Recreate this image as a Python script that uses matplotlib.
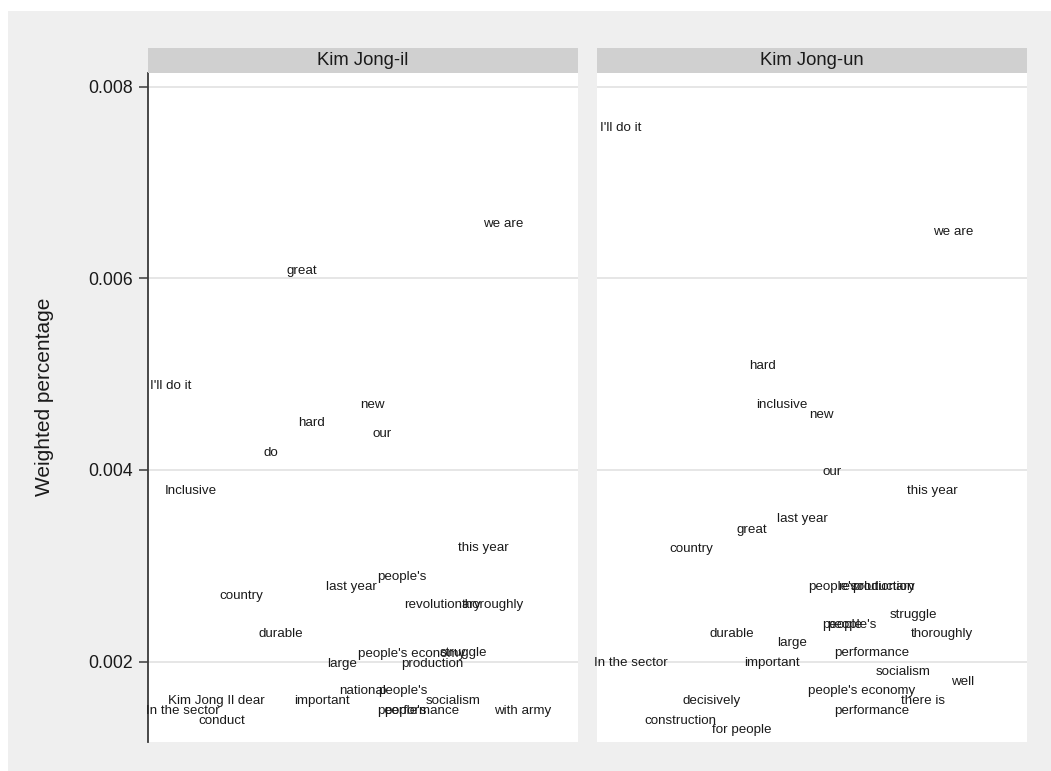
import matplotlib
matplotlib.use("Agg")
import matplotlib.pyplot as plt
from matplotlib.patches import Rectangle

plt.rcParams["font.family"] = ["Liberation Sans", "DejaVu Sans"]

# Word positions (shared word index) and weighted shares, by speaker
il_words = ["we are", "great", "I'll do it", "new", "hard", "our", "do", "Inclusive",
            "this year", "people's", "last year", "country", "revolutionary", "thoroughly",
            "durable", "people's economy", "struggle", "large", "production", "national",
            "people's", "Kim Jong Il dear", "important", "socialism", "In the sector",
            "people's", "performance", "with army", "conduct"]
il_pos = [82.6, 35.8, 5.3, 52.1, 38.1, 54.4, 28.6, 10.0,
          77.9, 59.1, 47.4, 21.6, 68.4, 80.2,
          31.0, 61.4, 73.3, 45.1, 66.2, 49.8,
          59.3, 15.8, 40.5, 70.9, 8.1,
          59.1, 63.7, 87.2, 17.2]
il_share = [0.00657, 0.00608, 0.00488, 0.00468, 0.00449, 0.00438, 0.00418, 0.00378,
            0.00319, 0.00288, 0.00278, 0.00269, 0.00259, 0.00259,
            0.00229, 0.00208, 0.00209, 0.00198, 0.00198, 0.00169,
            0.00169, 0.00159, 0.00159, 0.00159, 0.00149,
            0.00149, 0.00149, 0.00149, 0.00138]

un_words = ["I'll do it", "we are", "hard", "inclusive", "new", "our", "this year",
            "last year", "great", "country", "people's", "production", "revolutionary",
            "struggle", "people", "people's", "durable", "thoroughly", "large",
            "performance", "In the sector", "important", "socialism", "well",
            "people's economy", "decisively", "there is", "performance",
            "construction", "for people"]
un_pos = [5.6, 82.8, 38.4, 43.0, 52.3, 54.7, 78.1,
          47.7, 36.0, 21.9, 54.9, 66.5, 65.1,
          73.5, 57.0, 59.3, 31.3, 80.3, 45.3,
          64.0, 7.9, 40.7, 71.2, 85.1,
          61.6, 26.6, 75.7, 64.0,
          19.5, 33.7]
un_share = [0.00757, 0.00648, 0.00508, 0.00468, 0.00457, 0.00398, 0.00378,
            0.00349, 0.00337, 0.00318, 0.00278, 0.00278, 0.00278,
            0.00249, 0.00238, 0.00238, 0.00229, 0.00229, 0.00219,
            0.00209, 0.00199, 0.00199, 0.00189, 0.00179,
            0.00169, 0.00159, 0.00159, 0.00149,
            0.00138, 0.00129]

panel_titles = ["Kim Jong-il", "Kim Jong-un"]
y_ticks = [0.002, 0.004, 0.006, 0.008]
y_ticklabels = ["0.002", "0.004", "0.006", "0.008"]

W, H = 1051, 771
fig = plt.figure(figsize=(W / 100, H / 100), dpi=100)
fig.patch.set_facecolor("white")

# graph region background, drawn beneath the panels
bg = Rectangle((8 / W, 0), 1 - 8 / W, 1 - 11 / H,
               transform=fig.transFigure, facecolor="#efefef",
               edgecolor="none", zorder=-10)
fig.add_artist(bg)

panel_w = 430 / W
bottom = 1 - 742 / H
top = 1 - 73 / H
lefts = [148 / W, 597 / W]
strip_h = 25 / H

panels = [(il_words, il_pos, il_share), (un_words, un_pos, un_share)]

for i, (words, pos, share) in enumerate(panels):
    ax = fig.add_axes([lefts[i], bottom, panel_w, top - bottom])
    ax.set_facecolor("white")
    ax.set_xlim(0, 100)
    ax.set_ylim(0.001162, 0.008142)
    for t in y_ticks:
        ax.axhline(t, color="#e6e6e6", lw=1.4, zorder=1)
    for w, x, y in zip(words, pos, share):
        ax.text(x, y, w, ha="center", va="center", fontsize=9.6,
                color="#1a1a1a", zorder=3)
    for s in ["top", "right", "bottom"]:
        ax.spines[s].set_visible(False)
    ax.set_xticks([])
    if i == 0:
        ax.spines["left"].set_color("#3a3a3a")
        ax.spines["left"].set_linewidth(1.3)
        ax.set_yticks(y_ticks)
        ax.set_yticklabels(y_ticklabels)
        ax.tick_params(axis="y", direction="out", length=6.5, width=1.1,
                       color="#3a3a3a", pad=4.5, labelsize=12.7,
                       labelcolor="#1a1a1a")
    else:
        ax.spines["left"].set_visible(False)
        ax.set_yticks([])

    # panel header strip
    sax = fig.add_axes([lefts[i], top, panel_w, strip_h])
    sax.set_facecolor("#d0d0d0")
    sax.set_xticks([])
    sax.set_yticks([])
    for s in sax.spines.values():
        s.set_visible(False)
    sax.text(0.5, 0.5, panel_titles[i], ha="center", va="center",
             fontsize=13.3, color="#1a1a1a", transform=sax.transAxes)

fig.text(45 / W, 1 - 397 / H, "Weighted percentage", rotation=90,
         ha="center", va="center", fontsize=15, color="#1a1a1a")

fig.savefig("out.png", dpi=100, facecolor=fig.get_facecolor())
